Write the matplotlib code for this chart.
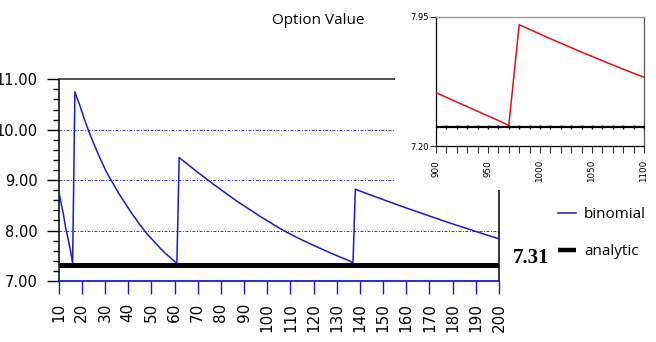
import matplotlib
matplotlib.use('Agg')
import matplotlib.pyplot as plt
from matplotlib.patches import Rectangle
from matplotlib.ticker import MultipleLocator
from matplotlib.lines import Line2D

# ---------------- data ----------------
steps = list(range(10, 201))
binomial = [
    8.80, 8.55, 8.33, 8.05, 7.85, 7.62, 7.36,
    10.75, 10.62, 10.50, 10.36, 10.22, 10.09, 9.97, 9.85, 9.74, 9.63,
    9.52, 9.42, 9.32, 9.22, 9.13, 9.05, 8.97, 8.89, 8.81, 8.73,
    8.66, 8.59, 8.52, 8.45, 8.38, 8.31, 8.25, 8.18, 8.12, 8.06,
    8.00, 7.945, 7.89, 7.84, 7.79, 7.74, 7.69, 7.64, 7.595, 7.55,
    7.51, 7.47, 7.43, 7.39, 7.35,
    9.45, 9.41, 9.375, 9.34, 9.30, 9.265, 9.23, 9.19, 9.155, 9.12,
    9.085, 9.05, 9.015, 8.98, 8.945, 8.91, 8.88, 8.845, 8.81, 8.78,
    8.745, 8.71, 8.68, 8.645, 8.615, 8.58, 8.55, 8.52, 8.49, 8.46,
    8.43, 8.40, 8.37, 8.34, 8.31, 8.28, 8.25, 8.225, 8.195, 8.17,
    8.14, 8.11, 8.085, 8.055, 8.03, 8.00, 7.976, 7.952, 7.928, 7.905,
    7.882, 7.859, 7.836, 7.814, 7.792, 7.77, 7.748, 7.727, 7.706, 7.685,
    7.664, 7.643, 7.622, 7.602, 7.582, 7.562, 7.542, 7.522, 7.503, 7.484,
    7.465, 7.446, 7.427, 7.408, 7.389, 7.35,
    8.82, 8.802, 8.785, 8.767, 8.750, 8.733, 8.715, 8.698, 8.681, 8.664,
    8.647, 8.630, 8.613, 8.596, 8.580, 8.563, 8.546, 8.530, 8.513, 8.496,
    8.480, 8.464, 8.447, 8.431, 8.415, 8.399, 8.383, 8.366, 8.350, 8.334,
    8.318, 8.302, 8.287, 8.271, 8.255, 8.240, 8.224, 8.209, 8.193, 8.178,
    8.162, 8.147, 8.132, 8.117, 8.102, 8.086, 8.071, 8.056, 8.041, 8.026,
    8.011, 7.996, 7.982, 7.967, 7.953, 7.938, 7.924, 7.909, 7.894, 7.880,
    7.865, 7.851, 7.837,
]
analytic = 7.31
grid_levels = [8.0, 9.0, 10.0]
main_xticks = list(range(10, 201, 10))
main_yticks = [7.0, 8.0, 9.0, 10.0, 11.0]

inset_steps = list(range(900, 1101, 10))
inset_binomial = [
    7.51, 7.483, 7.456, 7.429, 7.402, 7.375, 7.348, 7.32,
    7.905, 7.878, 7.851, 7.824, 7.798, 7.772, 7.746, 7.721, 7.696, 7.671,
    7.647, 7.623, 7.60,
]
inset_xticks = [900, 950, 1000, 1050, 1100]
inset_yticks = [7.20, 7.95]

# ---------------- figure ----------------
W, H = 656, 342
fig = plt.figure(figsize=(W / 100, H / 100), dpi=100)

blue = '#1a1acc'
ax = fig.add_axes([58.7 / W, 1 - 281 / H, (499 - 58.7) / W, (281 - 79.3) / H])
for g in grid_levels:
    ax.axhline(g, color='#3a3acc', lw=0.7, ls=(0, (3, 1.6, 1, 1.6)), zorder=1)
l_bin, = ax.plot(steps, binomial, color=blue, lw=1.1, zorder=3)
l_ana, = ax.plot([steps[0], steps[-1]], [analytic, analytic], color='black',
                 lw=3.6, solid_capstyle='butt', zorder=4)
ax.set_xlim(10, 200)
ax.set_ylim(7, 11)
ax.set_xticks(main_xticks)
ax.set_xticklabels([str(v) for v in main_xticks], rotation=90,
                   fontfamily='DejaVu Sans', fontsize=11)
ax.set_yticks(main_yticks)
ax.set_yticklabels(['%.2f' % v for v in main_yticks],
                   fontfamily='DejaVu Sans', fontsize=10.5)
ax.yaxis.set_minor_locator(MultipleLocator(0.2))
ax.tick_params(axis='y', which='major', length=8.6, width=1, color='black', pad=6.5)
ax.tick_params(axis='y', which='minor', length=4.3, width=1, color='black')
ax.tick_params(axis='x', which='major', length=9.6, width=1, color=blue, pad=6)
ax.spines['bottom'].set_color(blue)
ax.spines['bottom'].set_linewidth(1.3)
ax.spines['left'].set_color('black')
ax.spines['left'].set_linewidth(1.1)
ax.spines['top'].set_color('#333333')
ax.spines['top'].set_linewidth(1.2)
ax.spines['right'].set_color('black')
ax.spines['right'].set_linewidth(1.1)

# white panel behind the inset
fig.add_artist(Rectangle((395 / W, 1 - 190 / H), 1 - 395 / W, 190 / H,
                         transform=fig.transFigure, facecolor='white',
                         edgecolor='none', zorder=5))

# ---------------- inset ----------------
ax2 = fig.add_axes([436 / W, 1 - 146 / H, (644 - 436) / W, (146 - 17) / H])
ax2.set_zorder(10)
ax2.plot(inset_steps, inset_binomial, color='#e01010', lw=1.1, zorder=3)
ax2.plot(inset_steps, [analytic] * len(inset_steps), color='black', lw=1.6,
         marker='|', ms=3, mew=1, zorder=4)
ax2.set_xlim(900, 1100)
ax2.set_ylim(7.20, 7.95)
ax2.set_xticks(inset_xticks)
ax2.set_xticklabels([str(v) for v in inset_xticks], rotation=90,
                    fontfamily='DejaVu Sans', fontsize=6.3)
ax2.xaxis.set_minor_locator(MultipleLocator(10))
ax2.set_yticks(inset_yticks)
ax2.set_yticklabels(['%.2f' % v for v in inset_yticks],
                    fontfamily='DejaVu Sans', fontsize=6)
ax2.tick_params(axis='x', which='both', length=5, width=0.8, color='#333333', pad=5)
ax2.tick_params(axis='y', which='major', length=4, width=0.8, color='#333333', pad=1.5)
for s in ['left', 'bottom']:
    ax2.spines[s].set_color('black')
    ax2.spines[s].set_linewidth(0.9)
ax2.spines['top'].set_color('#999999')
ax2.spines['top'].set_linewidth(1.0)
ax2.spines['right'].set_color('#555555')
ax2.spines['right'].set_linewidth(0.9)

# ---------------- texts ----------------
fig.text(318.7 / W, 1 - 20.3 / H, 'Option Value', ha='center', va='center',
         fontfamily='Open Sans', fontsize=11)
fig.text(512.7 / W, 1 - 258 / H, '7.31', ha='left', va='center',
         fontfamily='Liberation Serif', fontweight='bold', fontsize=15)

h_bin = Line2D([], [], color=blue, lw=1.1)
h_ana = Line2D([], [], color='black', lw=3.2, solid_capstyle='butt')
fig.legend([h_bin, h_ana], ['binomial', 'analytic'], loc='upper left',
           bbox_to_anchor=(558 / W, 1 - 207 / H), frameon=False,
           handlelength=1.2, handletextpad=0.5, labelspacing=1.46,
           borderaxespad=0, borderpad=0,
           prop={'family': 'Open Sans', 'size': 11})

fig.savefig('out.png', dpi=100)
